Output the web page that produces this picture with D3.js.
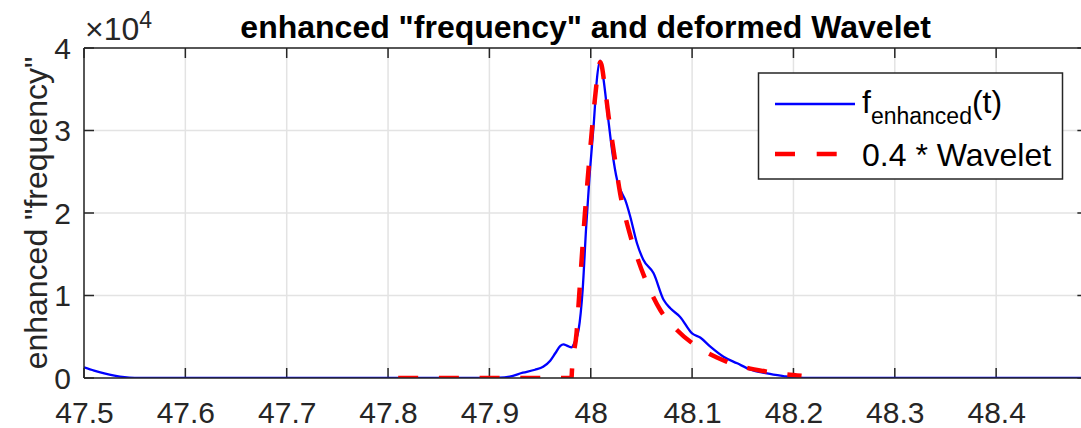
<!DOCTYPE html>
<html>
<head>
<meta charset="utf-8">
<script src="https://cdn.jsdelivr.net/npm/d3@7"></script>
<style>
  html, body { margin: 0; padding: 0; background: #fff; }
  svg { display: block; }
  text { font-family: "Liberation Sans", Arial, Helvetica, sans-serif; }
</style>
</head>
<body>
<svg id="chart" width="1081" height="428"></svg>
<script>
// ---- data ----
const xTicks = [47.5, 47.6, 47.7, 47.8, 47.9, 48, 48.1, 48.2, 48.3, 48.4];
const yTicks = [0, 1, 2, 3, 4];
const yTickLabels = ["0", "1", "2", "3", "4"];

const blueT = [47.500, 47.510, 47.520, 47.530, 47.540, 47.550, 47.560, 47.700, 47.900,
  47.910, 47.920, 47.933, 47.945, 47.953, 47.960, 47.965, 47.970, 47.973, 47.977, 47.981,
  47.984, 47.988, 47.992, 47.9955, 47.999, 48.003, 48.006, 48.0094, 48.0127, 48.0166,
  48.021, 48.026, 48.030, 48.034, 48.039, 48.0456, 48.052, 48.062, 48.072, 48.0785,
  48.088, 48.100, 48.108, 48.118, 48.131, 48.1445, 48.157, 48.174, 48.190, 48.200,
  48.210, 48.300, 48.490];
const blueV = [1300, 900, 560, 290, 100, 20, 0, 0, 0,
  30, 180, 640, 1000, 1370, 2100, 3000, 3900, 4080, 3900, 3720,
  4300, 5820, 10670, 18340, 24800, 30870, 36120, 38460, 36120, 32080,
  27640, 24000, 22600, 21580, 19550, 16330, 14300, 12690, 9450, 8450,
  7430, 5400, 4900, 3800, 2580, 1780, 1050, 570, 240, 60,
  0, 0, 0];

const redT = [47.810, 47.900, 47.981, 47.9815, 47.986, 47.9885, 47.994, 47.998, 48.004,
  48.008, 48.0094, 48.0143, 48.0176, 48.0225, 48.029, 48.0375, 48.0456, 48.0555,
  48.0686, 48.085, 48.105, 48.134, 48.174, 48.208];
const redV = [0, 0, 0, 1000, 5450, 9850, 19550, 25610, 33700,
  37730, 38300, 34900, 31700, 27640, 22390, 17940, 14700, 11480,
  8240, 5820, 3800, 1980, 760, 280];

const titleText = 'enhanced "frequency" and deformed Wavelet';
const yLabelText = 'enhanced "frequency"';
const legendNames = ["0.4 * Wavelet"];

// ---- layout ----
const svg = d3.select("#chart");
const L = 84, T = 48, B = 378;
const x = d3.scaleLinear().domain([47.5, 48.49]).range([L, L + 0.99 * 1013.5]);
const y = d3.scaleLinear().domain([0, 40000]).range([B, T]);
const R = x.range()[1];
const axisColor = "#262626";
const tickLen = 10;
const tickFont = 30;

// grid
const g = svg.append("g");
g.selectAll(".gx").data(xTicks).enter().append("line")
  .attr("x1", d => x(d)).attr("x2", d => x(d)).attr("y1", T).attr("y2", B)
  .attr("stroke", "#e3e3e3").attr("stroke-width", 1.5);
g.selectAll(".gy").data(yTicks).enter().append("line")
  .attr("x1", L).attr("x2", R).attr("y1", d => y(d * 1e4)).attr("y2", d => y(d * 1e4))
  .attr("stroke", "#e3e3e3").attr("stroke-width", 1.5);

// axes with d3
const xAxisB = d3.axisBottom(x).tickValues(xTicks).tickSize(0).tickPadding(0).tickFormat(d3.format(""));
const gx = svg.append("g").attr("transform", `translate(0,${B})`).call(xAxisB);
gx.select(".domain").remove();
gx.selectAll("text").attr("font-size", tickFont).attr("fill", axisColor).attr("dy", null).attr("y", 45)
  .style("font-family", '"Liberation Sans", Arial, sans-serif');

const yAxisL = d3.axisLeft(y).tickValues(yTicks.map(d => d * 1e4)).tickSize(0).tickPadding(0)
  .tickFormat((d, i) => yTickLabels[i]);
const gy = svg.append("g").attr("transform", `translate(${L},0)`).call(yAxisL);
gy.select(".domain").remove();
gy.selectAll("text").attr("font-size", tickFont).attr("fill", axisColor).attr("x", -13).attr("dy", "0.34em")
  .style("font-family", '"Liberation Sans", Arial, sans-serif');

// tick marks (inward) on all four sides
const tk = svg.append("g").attr("stroke", axisColor).attr("stroke-width", 1.5);
xTicks.forEach(d => {
  tk.append("line").attr("x1", x(d)).attr("x2", x(d)).attr("y1", B).attr("y2", B - tickLen);
  tk.append("line").attr("x1", x(d)).attr("x2", x(d)).attr("y1", T).attr("y2", T + tickLen);
});
yTicks.forEach(d => {
  tk.append("line").attr("x1", L).attr("x2", L + tickLen).attr("y1", y(d * 1e4)).attr("y2", y(d * 1e4));
  tk.append("line").attr("x1", R).attr("x2", R - tickLen).attr("y1", y(d * 1e4)).attr("y2", y(d * 1e4));
});

// clip
svg.append("clipPath").attr("id", "clip").append("rect")
  .attr("x", L).attr("y", T - 5).attr("width", R - L).attr("height", B - T + 5);

const line = d3.line().x(d => x(d[0])).y(d => y(d[1])).curve(d3.curveMonotoneX);
const blueData = blueT.map((t, i) => [t, blueV[i]]);
const redData = redT.map((t, i) => [t, redV[i]]);

const plot = svg.append("g").attr("clip-path", "url(#clip)");
plot.append("path").datum(blueData).attr("d", line)
  .attr("fill", "none").attr("stroke", "#0000ff").attr("stroke-width", 2.3);
plot.append("path").datum(redData).attr("d", line)
  .attr("fill", "none").attr("stroke", "#ff0000").attr("stroke-width", 4.5)
  .attr("stroke-dasharray", "20,20.7");

// frame
const fr = svg.append("g").attr("stroke", axisColor).attr("stroke-width", 1.5).attr("fill", "none");
fr.append("line").attr("x1", L).attr("x2", R).attr("y1", B).attr("y2", B);
fr.append("line").attr("x1", L).attr("x2", R).attr("y1", T).attr("y2", T);
fr.append("line").attr("x1", L).attr("x2", L).attr("y1", T).attr("y2", B);
fr.append("line").attr("x1", R).attr("x2", R).attr("y1", T).attr("y2", B);

// title
svg.append("text").attr("x", (L + R) / 2).attr("y", 38).attr("text-anchor", "middle")
  .attr("font-size", 32).attr("font-weight", "bold").attr("fill", "#000").text(titleText);

// exponent label
const ex = svg.append("text").attr("x", 85).attr("y", 40).attr("font-size", 32).attr("fill", axisColor);
ex.append("tspan").text("\u00d710");
ex.append("tspan").attr("font-size", 23).attr("dy", -12).text("4");

// y label
svg.append("text").attr("transform", `translate(47,${(T + B) / 2}) rotate(-90)`)
  .attr("text-anchor", "middle").attr("font-size", 32).attr("fill", axisColor).text(yLabelText);

// legend
const lg = svg.append("g");
lg.append("rect").attr("x", 758.5).attr("y", 73).attr("width", 304).attr("height", 106)
  .attr("fill", "#fff").attr("stroke", axisColor).attr("stroke-width", 1.5);
lg.append("line").attr("x1", 775).attr("x2", 855).attr("y1", 104).attr("y2", 104)
  .attr("stroke", "#0000ff").attr("stroke-width", 2.3);
lg.append("line").attr("x1", 775).attr("x2", 855).attr("y1", 154).attr("y2", 154)
  .attr("stroke", "#ff0000").attr("stroke-width", 4.5).attr("stroke-dasharray", "20,21.7");
const t1 = lg.append("text").attr("x", 862).attr("y", 113).attr("font-size", 32).attr("fill", "#000");
t1.append("tspan").text("f");
t1.append("tspan").attr("font-size", 23).attr("dy", 11).text("enhanced");
t1.append("tspan").attr("dy", -11).text("(t)");
lg.append("text").attr("x", 862).attr("y", 166).attr("font-size", 32).attr("fill", "#000").text(legendNames[0]);
</script>
</body>
</html>
